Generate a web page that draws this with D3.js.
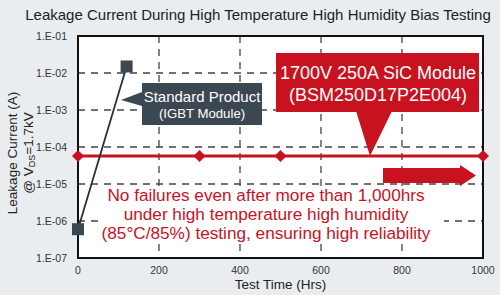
<!DOCTYPE html>
<html>
<head>
<meta charset="utf-8">
<script src="https://cdn.jsdelivr.net/npm/d3@7"></script>
<style>
  body { margin: 0; background: #e9edf0; }
  svg { display: block; font-family: Arial, "Liberation Sans", sans-serif; }
</style>
</head>
<body>
<div id="chart"></div>
<script>
// data
const igbtHours = [0, 120];
const igbtLeak = [6e-7, 1.5e-2];
const sicHours = [0, 300, 500, 1000];
const sicLeak = [5.7e-5, 5.7e-5, 5.7e-5, 5.7e-5];
const xTicks = [0, 200, 400, 600, 800, 1000];
const yTicks = [1e-1, 1e-2, 1e-3, 1e-4, 1e-5, 1e-6, 1e-7];
const yTickLabels = ["1.E-01", "1.E-02", "1.E-03", "1.E-04", "1.E-05", "1.E-06", "1.E-07"];
const noteLines = [
  "No failures even after more than 1,000hrs",
  "under high temperature high humidity",
  "(85°C/85%) testing, ensuring high reliability"
];

const W = 500, H = 295;
const margin = {top: 36, right: 17, bottom: 37, left: 78};
const red = "#c8121f", slate = "#3b4852";

const svg = d3.select("#chart").append("svg")
  .attr("width", W).attr("height", H);

svg.append("rect").attr("width", W).attr("height", H).attr("fill", "#e9edf0");

const x = d3.scaleLinear().domain([0, 1000]).range([margin.left, W - margin.right]);
const y = d3.scaleLog().domain([1e-7, 1e-1]).range([H - margin.bottom, margin.top]);

// plot area
svg.append("rect")
  .attr("x", x(0)).attr("y", y(1e-1))
  .attr("width", x(1000) - x(0)).attr("height", y(1e-7) - y(1e-1))
  .attr("fill", "#fff");

// gridlines
svg.append("g").selectAll("line")
  .data(yTicks.slice(1, -1)).join("line")
  .attr("x1", x(0)).attr("x2", x(1000))
  .attr("y1", d => y(d)).attr("y2", d => y(d))
  .attr("stroke", "#444").attr("stroke-width", 1.3).attr("stroke-dasharray", "7,6");
svg.append("g").selectAll("line")
  .data(xTicks.slice(1, -1)).join("line")
  .attr("x1", d => x(d)).attr("x2", d => x(d))
  .attr("y1", y(1e-1)).attr("y2", y(1e-7))
  .attr("stroke", "#444").attr("stroke-width", 1.3).attr("stroke-dasharray", "7,6");

// white patch behind the red note
svg.append("rect")
  .attr("x", 102).attr("y", 186).attr("width", 342).attr("height", 58)
  .attr("fill", "#fff");

// axis frame
svg.append("rect")
  .attr("x", x(0)).attr("y", y(1e-1))
  .attr("width", x(1000) - x(0)).attr("height", y(1e-7) - y(1e-1))
  .attr("fill", "none").attr("stroke", "#111").attr("stroke-width", 2);

// tick labels
svg.append("g").selectAll("text")
  .data(yTicks).join("text")
  .attr("x", 67).attr("y", d => y(d) + 3.5)
  .attr("text-anchor", "end").attr("font-size", 10.5).attr("fill", "#333")
  .text((d, i) => yTickLabels[i]);
svg.append("g").selectAll("text")
  .data(xTicks).join("text")
  .attr("x", d => x(d)).attr("y", 274)
  .attr("text-anchor", "middle").attr("font-size", 10.5).attr("fill", "#333")
  .text(d => d);

// titles
svg.append("text").attr("x", 258).attr("y", 20)
  .attr("text-anchor", "middle").attr("font-size", 15).attr("fill", "#222")
  .text("Leakage Current During High Temperature High Humidity Bias Testing");
svg.append("text").attr("x", x(500)).attr("y", 289)
  .attr("text-anchor", "middle").attr("font-size", 13.5).attr("fill", "#222")
  .text("Test Time (Hrs)");
svg.append("text")
  .attr("transform", "translate(17,153) rotate(-90)")
  .attr("text-anchor", "middle").attr("font-size", 13.5).attr("fill", "#222")
  .text("Leakage Current (A)");
const yt2 = svg.append("text")
  .attr("transform", "translate(33,153) rotate(-90)")
  .attr("text-anchor", "middle").attr("font-size", 13.5).attr("fill", "#222");
yt2.append("tspan").text("@ V");
yt2.append("tspan").attr("font-size", 9).attr("dy", 2).text("DS");
yt2.append("tspan").attr("dy", -2).text("=1.7kV");

// series
const igbt = igbtHours.map((h, i) => ({h, v: igbtLeak[i]}));
const sic = sicHours.map((h, i) => ({h, v: sicLeak[i]}));
const line = d3.line().x(d => x(d.h)).y(d => y(d.v));

// SiC series
svg.append("path").datum(sic).attr("d", line)
  .attr("fill", "none").attr("stroke", red).attr("stroke-width", 3);
svg.append("g").selectAll("path")
  .data(sic).join("path")
  .attr("d", d3.symbol(d3.symbolSquare, 72))
  .attr("transform", d => `translate(${x(d.h)},${y(d.v)}) rotate(45)`)
  .attr("fill", red);

// IGBT series
svg.append("path").datum(igbt).attr("d", line)
  .attr("fill", "none").attr("stroke", "#25323b").attr("stroke-width", 1.8);
svg.append("g").selectAll("rect")
  .data(igbt).join("rect")
  .attr("x", d => x(d.h) - 6).attr("y", d => y(d.v) - 6)
  .attr("width", 12).attr("height", 12)
  .attr("fill", slate);

// IGBT callout
svg.append("path")
  .attr("d", "M142,92 L121,100 L142,106 Z").attr("fill", slate);
svg.append("rect").attr("x", 142).attr("y", 83).attr("width", 120).attr("height", 42)
  .attr("fill", slate);
svg.append("text").attr("x", 202).attr("y", 102)
  .attr("text-anchor", "middle").attr("font-size", 15).attr("fill", "#fff")
  .text("Standard Product");
svg.append("text").attr("x", 202).attr("y", 118)
  .attr("text-anchor", "middle").attr("font-size", 13.2).attr("fill", "#fff")
  .text("(IGBT Module)");

// SiC callout
svg.append("path")
  .attr("d", "M356,111 L370,156 L392,111 Z").attr("fill", red);
svg.append("rect").attr("x", 276).attr("y", 53).attr("width", 203).attr("height", 59)
  .attr("fill", red);
svg.append("text").attr("x", 378).attr("y", 79)
  .attr("text-anchor", "middle").attr("font-size", 18).attr("fill", "#fff")
  .text("1700V 250A SiC Module");
svg.append("text").attr("x", 378).attr("y", 101)
  .attr("text-anchor", "middle").attr("font-size", 18).attr("fill", "#fff")
  .text("(BSM250D17P2E004)");

// arrow
svg.append("path")
  .attr("d", "M383,168 L460,168 L460,165 L476,175.5 L460,186 L460,183 L383,183 Z")
  .attr("fill", red);

// note
svg.append("g").selectAll("text")
  .data(noteLines).join("text")
  .attr("x", 266).attr("y", (d, i) => 201 + i * 19)
  .attr("text-anchor", "middle").attr("font-size", 17.2).attr("fill", red)
  .text(d => d);
</script>
</body>
</html>
